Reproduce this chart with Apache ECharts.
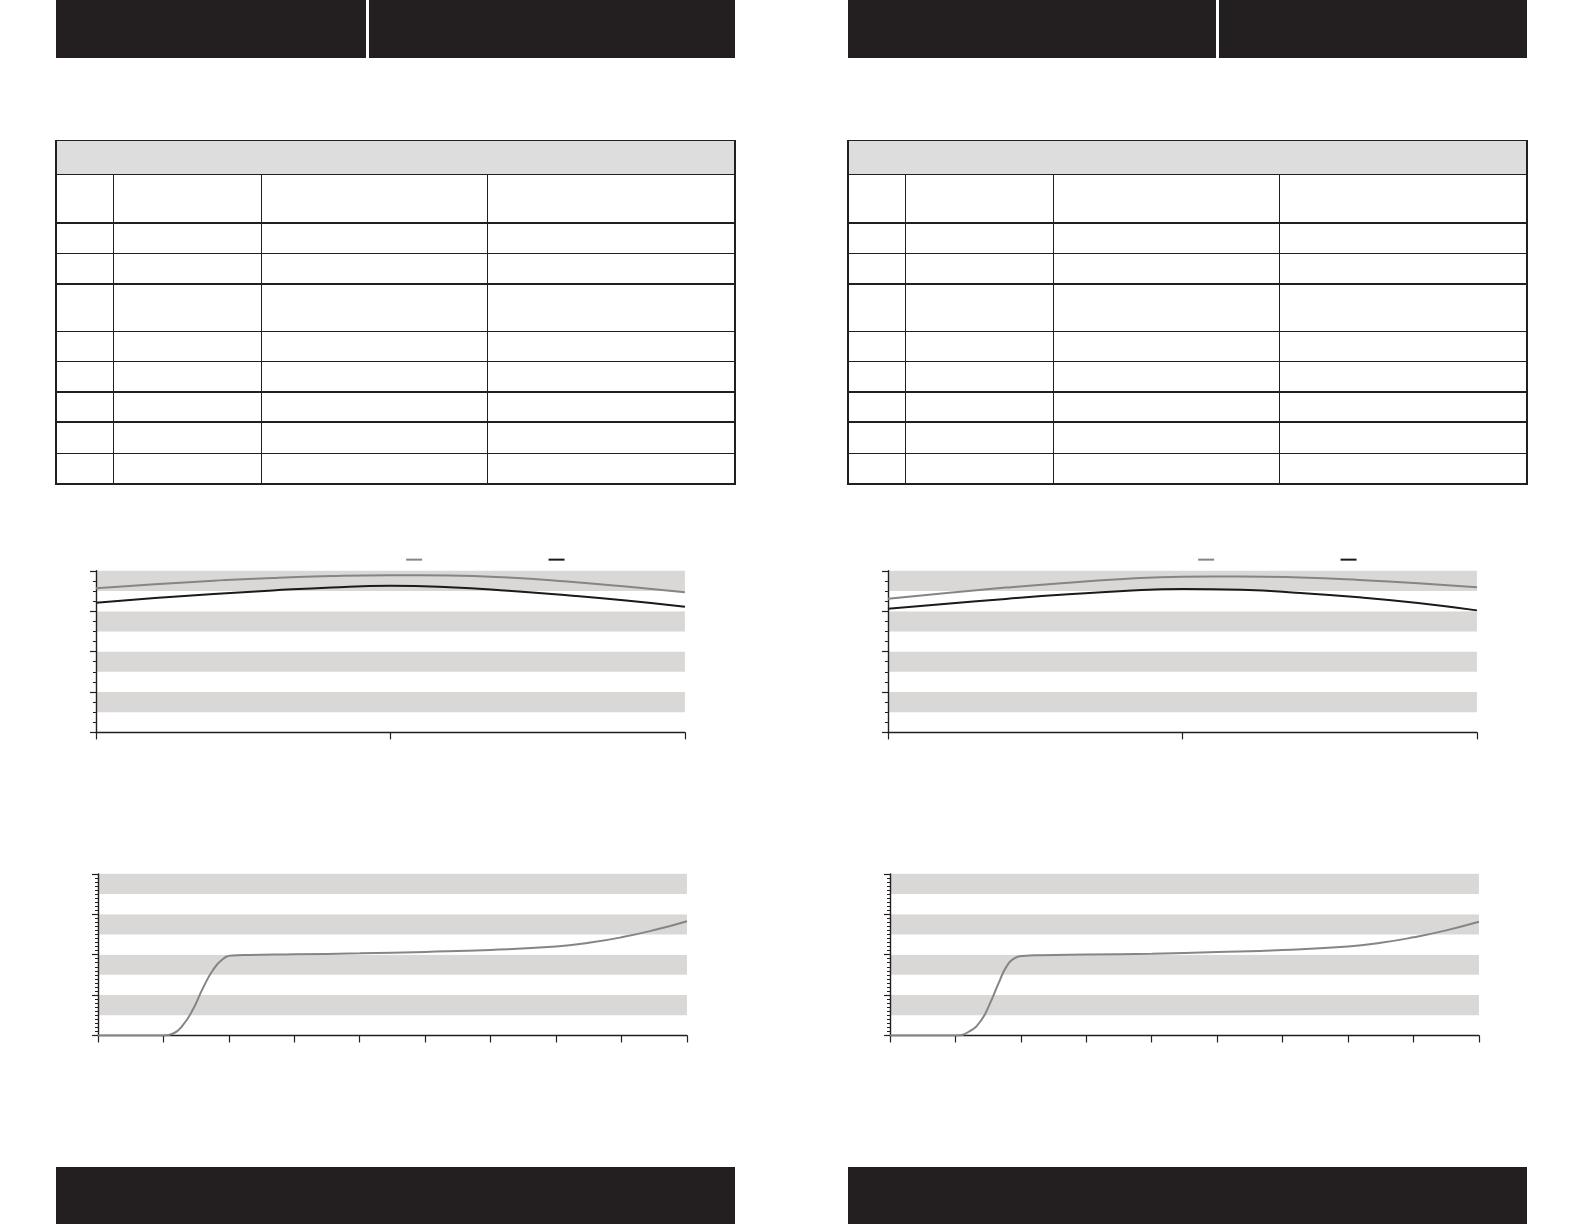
<!DOCTYPE html>
<html>
<head>
<meta charset="utf-8">
<script src="https://cdn.jsdelivr.net/npm/echarts@6/dist/echarts.min.js"></script>
<style>
  html, body { margin: 0; padding: 0; background: #fff; }
  #page { position: relative; width: 1584px; height: 1224px; overflow: hidden; }
  .blk { position: absolute; background: #231f20; }
  .band { position: absolute; background: #dddddd; }
  .ln { position: absolute; background: #231f20; }
  #chart { position: absolute; left: 0; top: 0; width: 1584px; height: 1224px; }
</style>
</head>
<body>
<div id="page">
  <div id="chart"></div>
</div>
<script>
// top charts: x positions and curves
var topX = [0, 10, 20, 30, 40, 50, 60, 70, 80, 90, 100];
var leftTopGray  = [89.2, 91.6, 93.8, 95.6, 96.8, 97.3, 97.1, 95.8, 93.3, 90.2, 86.7];
var leftTopBlack = [80.2, 83.1, 85.6, 87.8, 89.7, 90.7, 89.8, 87.6, 84.8, 81.6, 77.8];
var rightTopGray  = [82.7, 86.3, 89.6, 92.5, 94.9, 96.3, 96.5, 95.8, 94.3, 92.3, 89.8];
var rightTopBlack = [76.5, 79.6, 82.6, 85.3, 87.5, 88.7, 88.2, 86.3, 83.6, 80.1, 75.5];

// bottom charts
var leftBotX = [0, 1.0, 1.15, 1.3, 1.45, 1.6, 1.75, 1.9, 2.05, 2.3, 3, 4, 5, 6, 7, 7.5, 8, 8.5, 9];
var leftBotY = [0, 0, 1.2, 6.5, 16, 29, 40, 47, 49.4, 49.8, 50.2, 50.8, 51.7, 52.9, 55, 57.3, 60.7, 65.2, 70.7];
var rightBotX = [0, 1.0, 1.22, 1.4, 1.53, 1.66, 1.78, 1.9, 2.03, 2.3, 3, 4, 5, 6, 7, 7.5, 8, 8.5, 9];
var rightBotY = [0, 0, 2.7, 9.8, 20, 32.4, 42.6, 47.7, 49.2, 49.7, 50.1, 50.6, 51.6, 52.9, 55, 57.3, 60.7, 65, 70.3];

// positions were measured on a 1568px wide copy
var S = 1584 / 1568;

// ---- static page pieces (header bars, tables, footers) ----
var page = document.getElementById('page');
var chartDom = document.getElementById('chart');
function box(cls, l, t, w, h) {
  var d = document.createElement('div');
  d.className = cls;
  d.style.left = (l * S) + 'px'; d.style.top = (t * S) + 'px';
  d.style.width = (w * S) + 'px'; d.style.height = (h * S) + 'px';
  page.insertBefore(d, chartDom);
}
// header and footer bars
box('blk', 55, 0, 307, 57); box('blk', 365, 0, 363, 57);
box('blk', 839, 0, 365, 57); box('blk', 1207, 0, 305, 57);
box('blk', 55, 1155, 673, 75); box('blk', 839, 1155, 673, 75);

// tables
var rowLines = [139, 173, 221, 251, 281, 328, 358, 388, 418, 449, 479];
function table(x0, cols) {
  var x1 = x0 + 673;
  box('band', x0, 139, 673, 34);
  rowLines.forEach(function (y) { box('ln', x0, y - 0.8, 673, 1.5); });
  box('ln', x0 - 0.5, 138.2, 1.5, 341.5);
  box('ln', x1 - 1, 138.2, 1.5, 341.5);
  cols.forEach(function (c) { box('ln', x0 + c, 173, 1.3, 306); });
}
table(55, [57, 203, 427]);
table(839, [57, 203, 427]);

// ---- charts ----
var chart = echarts.init(chartDom);
var GRAY = '#858585', BLACK = '#1a1a1a', BAND = '#d9d8d7';
var grids = [
  { left: 95,  top: 565, width: 583, height: 160 },
  { left: 879, top: 565, width: 583, height: 160 },
  { left: 97,  top: 865, width: 583, height: 160 },
  { left: 881, top: 865, width: 583, height: 160 }
].map(function (g) {
  return { left: g.left * S, top: g.top * S, width: g.width * S, height: g.height * S };
});
function pairs(xs, ys) { return xs.map(function (x, i) { return [x, ys[i]]; }); }

var xAxes = [], yAxes = [];
grids.forEach(function (g, i) {
  var isTop = i < 2;
  xAxes.push({
    type: 'value', gridIndex: i, min: 0, max: isTop ? 100 : 9, interval: isTop ? 50 : 1,
    axisLine: { show: true, lineStyle: { color: '#231f20', width: 1.4 } },
    axisTick: { show: true, length: 7, lineStyle: { color: '#231f20', width: 1.2 } },
    axisLabel: { show: false }, splitLine: { show: false }
  });
  // band axis
  yAxes.push({
    type: 'value', gridIndex: i, position: 'left', min: 0, max: 100, interval: 12.5,
    axisLine: { show: false }, axisTick: { show: false }, axisLabel: { show: false },
    splitLine: { show: false },
    splitArea: { show: true, areaStyle: { color: ['#ffffff', BAND] } }
  });
  // tick axis
  yAxes.push({
    type: 'value', gridIndex: i, position: 'left', offset: 0, min: 0, max: 100, interval: 25,
    axisLine: { show: true, lineStyle: { color: '#231f20', width: 1.4 } },
    axisTick: { show: true, length: 6, lineStyle: { color: '#231f20', width: 1.2 } },
    minorTick: { show: true, splitNumber: isTop ? 4 : 10, length: 3, lineStyle: { color: '#231f20', width: 1 } },
    axisLabel: { show: false }, splitLine: { show: false }
  });
});

function line(name, idx, data, color) {
  return {
    name: name, type: 'line', xAxisIndex: idx, yAxisIndex: idx * 2 + 1,
    data: data, symbol: 'none', smooth: 0.5,
    lineStyle: { color: color, width: 2 }, itemStyle: { color: color }
  };
}

var series = [
  line('左 1', 0, pairs(topX, leftTopGray), GRAY),
  line('左 2', 0, pairs(topX, leftTopBlack), BLACK),
  line('右 1', 1, pairs(topX, rightTopGray), GRAY),
  line('右 2', 1, pairs(topX, rightTopBlack), BLACK),
  line('左 3', 2, pairs(leftBotX, leftBotY), GRAY),
  line('右 3', 3, pairs(rightBotX, rightBotY), GRAY)
];

function leg(name, left) {
  return {
    data: [name], left: left * S, top: 553 * S, padding: 0,
    itemWidth: 16, itemHeight: 2, icon: 'rect',
    formatter: function () { return ''; }, selectedMode: false,
    textStyle: { fontSize: 1 }
  };
}

chart.setOption({
  animation: false,
  backgroundColor: 'transparent',
  grid: grids,
  xAxis: xAxes,
  yAxis: yAxes,
  legend: [leg('左 1', 402), leg('左 2', 543), leg('右 1', 1186), leg('右 2', 1327)],
  series: series
});
</script>
</body>
</html>
